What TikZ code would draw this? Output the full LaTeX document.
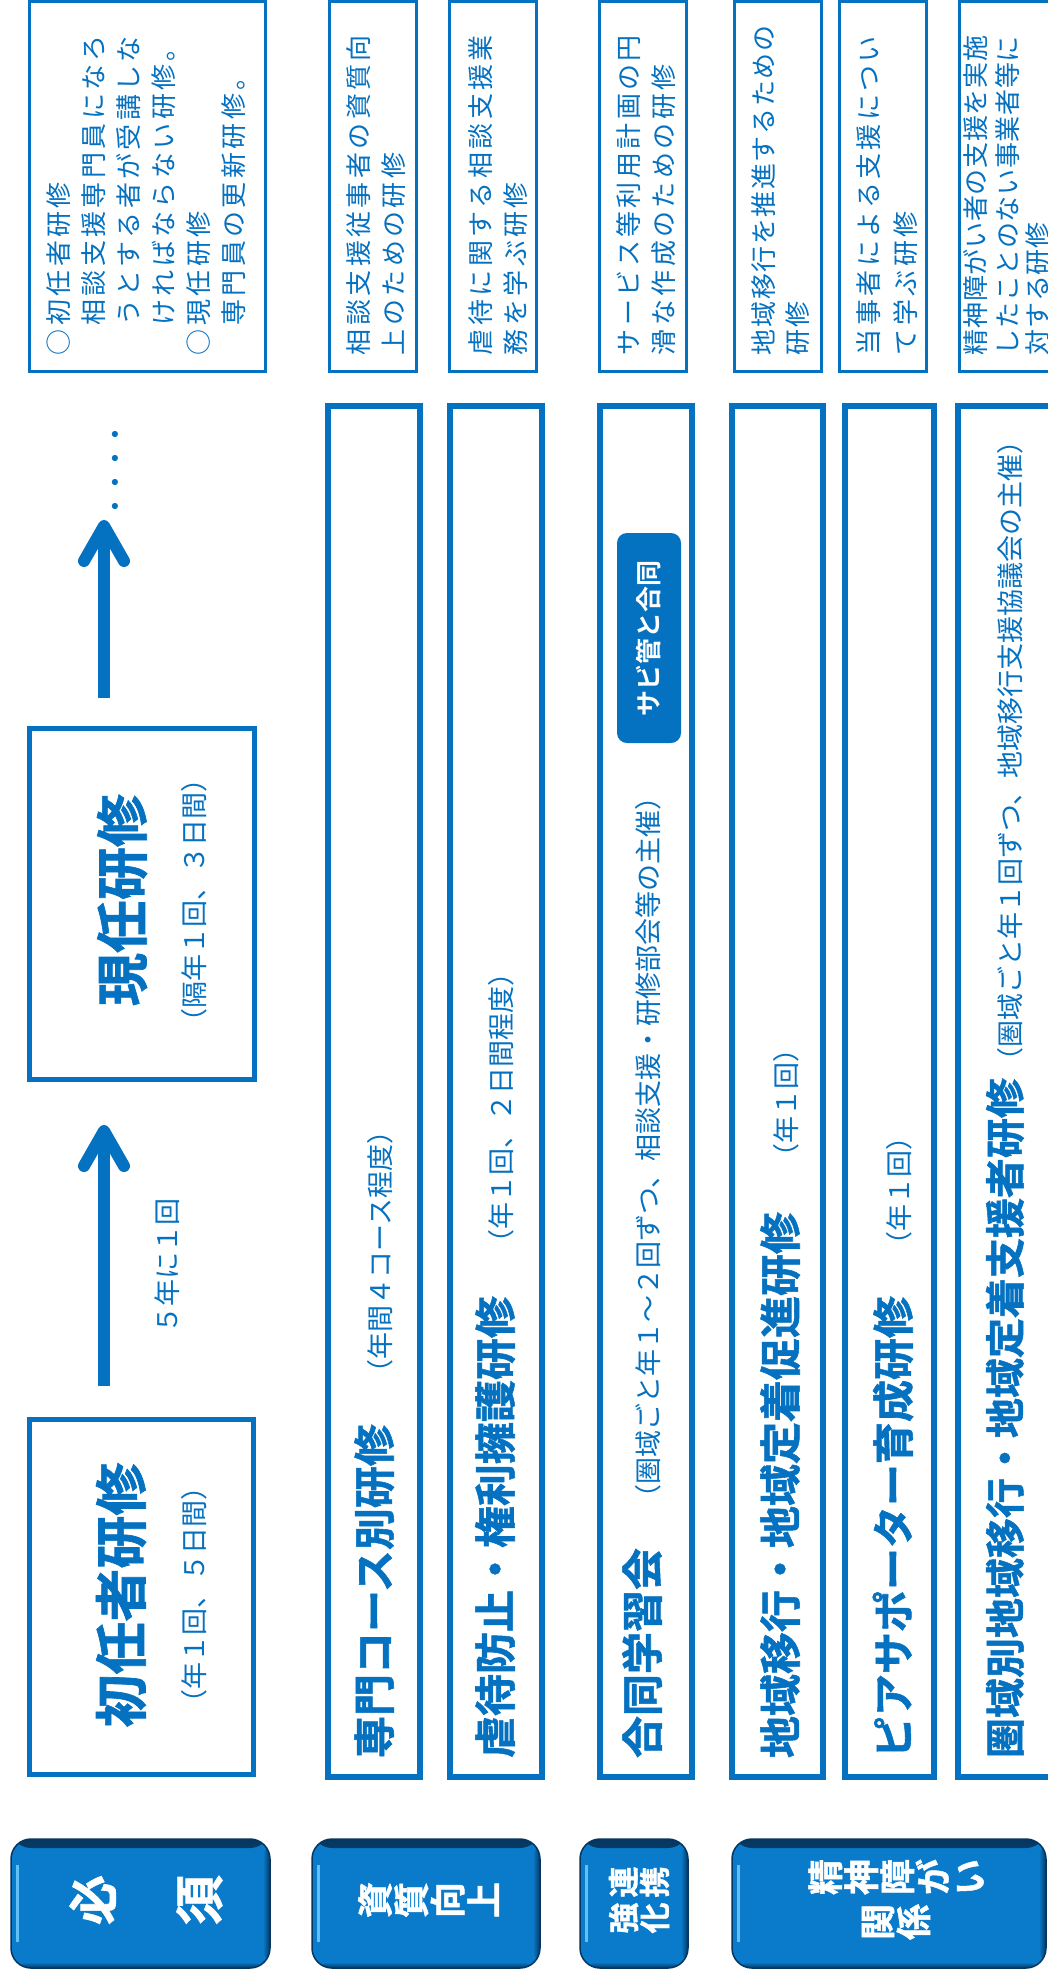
\documentclass[tikz,border=0pt]{standalone}
\usepackage{fontspec}
\setmainfont{Noto Sans CJK JP}
\newfontfamily\jpr{Noto Sans CJK JP}
\newfontfamily\jpb{Noto Sans CJK JP Bold}
\newfontfamily\jph{Noto Sans CJK JP Bold}[FakeBold=1.3]
\newfontfamily\jpdA{Noto Sans CJK JP}[LetterSpace=13]
\newfontfamily\jpdB{Noto Sans CJK JP}[LetterSpace=6]
\newfontfamily\jpdC{Noto Sans CJK JP}[LetterSpace=2.5]
\usetikzlibrary{arrows.meta}
\definecolor{lineblue}{HTML}{0571C1}
\definecolor{catfill}{HTML}{0A7BCB}
\definecolor{catdark}{HTML}{06365F}
\definecolor{catlight}{HTML}{62BFF7}
\lineskiplimit=-100pt
\newcommand\myTitle{\jph\fontsize{42pt}{42pt}\selectfont}
\newcommand\myTitleS{\jph\fontsize{40pt}{40pt}\selectfont}
\newcommand\myBig{\jph\fontsize{53pt}{53pt}\selectfont}
\newcommand\mySub{\jpr\fontsize{27pt}{27pt}\selectfont}
\newcommand\descA{\jpdA\fontsize{26pt}{26pt}\selectfont}
\newcommand\descB{\jpdB\fontsize{26pt}{26pt}\selectfont}
\newcommand\descC{\jpdC\fontsize{26pt}{26pt}\selectfont}
\tikzset{
  descbox/.style={draw=lineblue, line width=2.8pt, fill=white},
  longbox/.style={draw=lineblue, line width=6pt, fill=white},
  bigbox/.style={draw=lineblue, line width=5pt, fill=white},
  vt/.style={rotate=90, text=lineblue},
  dline/.style={vt, anchor=base west},
  catbox/.style={rounded corners=20pt, fill=catfill, draw=catdark, line width=1.5pt,
    path picture={
      \shade[top color=catdark, bottom color=catfill] (path picture bounding box.north west) rectangle ([yshift=-9pt]path picture bounding box.north east);
      \shade[left color=catfill, right color=catdark] ([xshift=-7pt]path picture bounding box.north east) rectangle (path picture bounding box.south east);
      \shade[bottom color=catdark, top color=catfill] ([yshift=6pt]path picture bounding box.south west) rectangle (path picture bounding box.south east);
      \draw[catlight, line width=3pt] ([xshift=6pt,yshift=-26pt]path picture bounding box.north west) -- ([xshift=6pt,yshift=26pt]path picture bounding box.south west);
    }},
  cattext/.style={rotate=90, text=white, align=center},
  pill/.style={rotate=90, fill=lineblue, rounded corners=10pt, text=white, font=\jpb\fontsize{26pt}{26pt}\selectfont},
  arr/.style={draw=lineblue, line width=12pt, -{Straight Barb[length=35pt, width=40pt, round]}}
}
\begin{document}
\begin{tikzpicture}[x=1pt, y=-1pt, every node/.style={inner sep=0pt, outer sep=0pt}]
\useasboundingbox (0,0) rectangle (1048,1975);
\clip (0,0) rectangle (1048,1975);
\fill[white] (0,0) rectangle (1048,1975);

% description boxes
\node[descbox, minimum width=236pt, minimum height=370pt] (d0) at (147.5,186.5) {};
\node[descbox, minimum width=87pt, minimum height=370pt] (d1) at (373,186.5) {};
\node[descbox, minimum width=87pt, minimum height=370pt] (d2) at (493,186.5) {};
\node[descbox, minimum width=87pt, minimum height=370pt] (d3) at (643,186.5) {};
\node[descbox, minimum width=87pt, minimum height=370pt] (d4) at (778,186.5) {};
\node[descbox, minimum width=87pt, minimum height=370pt] (d5) at (883,186.5) {};
\node[descbox, minimum width=140pt, minimum height=370pt] (d6) at (1029.5,186.5) {};

\node[dline, font=\descA] (d0a) at (68,355) {○初任者研修};
\node[dline, font=\descA] (d0b) at (103,355) {　相談支援専門員になろ};
\node[dline, font=\descA] (d0c) at (138,355) {　うとする者が受講しな};
\node[dline, font=\descA] (d0d) at (173,355) {　ければならない研修。};
\node[dline, font=\descA] (d0e) at (208,355) {○現任研修};
\node[dline, font=\descA] (d0f) at (243,355) {　専門員の更新研修。};

\node[dline, font=\descA] (d1a) at (368,355) {相談支援従事者の資質向};
\node[dline, font=\descA] (d1b) at (403,355) {上のための研修};
\node[dline, font=\descA] (d2a) at (490,355) {虐待に関する相談支援業};
\node[dline, font=\descA] (d2b) at (525,355) {務を学ぶ研修};
\node[dline, font=\descA] (d3a) at (638,355) {サービス等利用計画の円};
\node[dline, font=\descA] (d3b) at (673,355) {滑な作成のための研修};
\node[dline, font=\descB] (d4a) at (773,355) {地域移行を推進するための};
\node[dline, font=\descB] (d4b) at (807,355) {研修};
\node[dline, font=\descA] (d5a) at (878,355) {当事者による支援につい};
\node[dline, font=\descA] (d5b) at (915,355) {て学ぶ研修};
\node[dline, font=\descC] (d6a) at (985,355) {精神障がい者の支援を実施};
\node[dline, font=\descC] (d6b) at (1017,355) {したことのない事業者等に};
\node[dline, font=\descC] (d6c) at (1047,355) {対する研修};

% long boxes
\node[longbox, minimum width=92pt, minimum height=1371pt] (l1) at (374,1091.5) {};
\node[longbox, minimum width=92pt, minimum height=1371pt] (l2) at (496,1091.5) {};
\node[longbox, minimum width=92pt, minimum height=1371pt] (l3) at (646,1091.5) {};
\node[longbox, minimum width=91pt, minimum height=1371pt] (l4) at (777.5,1091.5) {};
\node[longbox, minimum width=89pt, minimum height=1371pt] (l5) at (889.5,1091.5) {};
\node[longbox, minimum width=142pt, minimum height=1371pt] (l6) at (1029,1091.5) {};

\node[vt, anchor=base west] (l1t) at (390,1758) {{\myTitle 専門コース別研修}\hspace{38pt}{\mySub（年間４コース程度）}};
\node[vt, anchor=base west] (l2t) at (511,1758) {{\myTitle 虐待防止・権利擁護研修}\hspace{40pt}{\mySub（年１回、２日間程度）}};
\node[vt, anchor=base west] (l3t) at (658,1758) {{\myTitle 合同学習会}\hspace{37pt}{\mySub（圏域ごと年１～２回ずつ、相談支援・研修部会等の主催）}};
\node[vt, anchor=base west] (l4t) at (796,1758) {{\myTitle 地域移行・地域定着促進研修}\hspace{42pt}{\mySub（年１回）}};
\node[vt, anchor=base west] (l5t) at (909,1758) {{\myTitle ピアサポーター育成研修}\hspace{38pt}{\mySub（年１回）}};
\node[vt, anchor=base west] (l6t) at (1020,1758) {{\myTitleS 圏域別地域移行・地域定着支援者研修}\hspace{4pt}{\mySub（圏域ごと年１回ずつ、地域移行支援協議会の主催）}};

\node[pill, minimum width=210pt, minimum height=64pt] (sabi) at (649,638) {サビ管と合同};

% left column
\node[bigbox, minimum width=224pt, minimum height=355pt] (shonin) at (141.5,1597) {};
\node[bigbox, minimum width=225pt, minimum height=351pt] (genin) at (142,904) {};
\node[vt, anchor=base, font=\myBig] (shoninT) at (141,1595) {初任者研修};
\node[vt, anchor=base, font=\mySub] (shoninS) at (204,1595) {（年１回、５日間）};
\node[vt, anchor=base, font=\myBig] (geninT) at (142,900) {現任研修};
\node[vt, anchor=base, font=\mySub] (geninS) at (204,900) {（隔年１回、３日間）};

\coordinate (tip2) at (104,520);
\draw[arr, shorten <=33.5pt, shorten >=45.5pt] ([xshift=-37.5pt]shonin.north) -- ([xshift=-38pt]genin.south);
\draw[arr, shorten <=30.5pt] ([xshift=-38pt]genin.north) -- (tip2);
\node[vt, anchor=base, font=\mySub] (freq) at (177,1266) {５年に１回};
\node[vt, anchor=base, font=\jpb\fontsize{24pt}{24pt}\selectfont] (dots) at (124,470) {・・・・};

% category buttons
\node[catbox, minimum width=259pt, minimum height=129pt] (c1) at (140.5,1903.5) {};
\node[catbox, minimum width=228pt, minimum height=129pt] (c2) at (426,1903.5) {};
\node[catbox, minimum width=108pt, minimum height=129pt] (c3) at (634,1903.5) {};
\node[catbox, minimum width=314pt, minimum height=129pt] (c4) at (889,1903.5) {};

\node[cattext, font=\jph\fontsize{50pt}{106pt}\selectfont] (c1t) at (146,1900) {必\\須};
\node[cattext, font=\jph\fontsize{36pt}{36.3pt}\selectfont] (c2t) at (428.5,1900) {資\\質\\向\\上};
\node[cattext, font=\jph\fontsize{31pt}{31pt}\selectfont] (c3a) at (639,1882) {連\\携};
\node[cattext, font=\jph\fontsize{31pt}{31pt}\selectfont] (c3b) at (639,1918) {強\\化};
\node[cattext, font=\jph\fontsize{36pt}{36pt}\selectfont] (c4a) at (896,1877) {精\\神\\障\\が\\い};
\node[cattext, font=\jph\fontsize{36pt}{36pt}\selectfont] (c4b) at (896,1922) {関\\係};
\end{tikzpicture}
\end{document}
